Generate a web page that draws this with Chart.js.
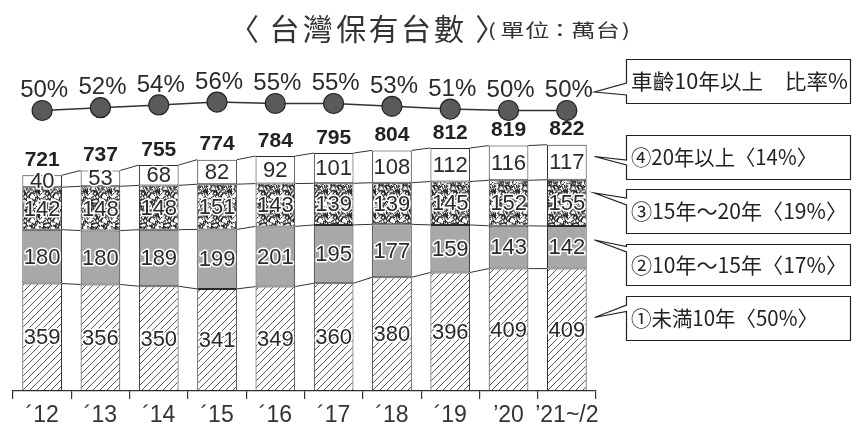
<!DOCTYPE html>
<html lang="zh-Hant">
<head>
<meta charset="utf-8">
<title>台灣保有台數</title>
<script src="https://cdn.jsdelivr.net/npm/chart.js@4.4.1/dist/chart.umd.min.js"></script>
<style>
  html, body { margin: 0; padding: 0; background: #fff; }
  #wrap { width: 852px; height: 423px; }
</style>
</head>
<body>
<div id="wrap"><canvas id="chart" width="852" height="423"></canvas></div>
<script>
/* =============================================
   DATA
   ============================================= */
const years     = ['´12', '´13', '´14', '´15', '´16', '´17', '´18', '´19', '’20', '’21~/2'];
const under10   = [359, 356, 350, 341, 349, 360, 380, 396, 409, 409];   // ① 未満10年
const age10to15 = [180, 180, 189, 199, 201, 195, 177, 159, 143, 142];   // ② 10年～15年
const age15to20 = [142, 148, 148, 151, 143, 139, 139, 145, 152, 155];   // ③ 15年～20年
const over20    = [40, 53, 68, 82, 92, 101, 108, 112, 116, 117];        // ④ 20年以上
const totals    = [721, 737, 755, 774, 784, 795, 804, 812, 819, 822];
const ratio10up = [50, 52, 54, 56, 55, 55, 53, 51, 50, 50];             // 車齡10年以上 比率%

const titleMain = '〈台灣保有台數〉';
const titleUnit = '(單位：萬台)';

// callout labels, top box first
const calloutTexts = [
  '車齡10年以上　比率%',
  '④20年以上〈14%〉',
  '③15年～20年〈19%〉',
  '②10年～15年〈17%〉',
  '①未満10年〈50%〉'
];

const NUM_FONT = '"Liberation Sans", Arial, sans-serif';
const CJK_FONT = '"Noto Sans CJK TC", "Noto Sans CJK JP", sans-serif';
const INK = '#2a2a2a';

/* =============================================
   PATTERNS
   ============================================= */
const canvas = document.getElementById('chart');
const ctx = canvas.getContext('2d');

/** diagonal hatch "/" for the bottom segment */
function hatchPattern() {
  const s = 7;
  const c = document.createElement('canvas');
  c.width = s; c.height = s;
  const g = c.getContext('2d');
  g.fillStyle = '#fff';
  g.fillRect(0, 0, s, s);
  g.strokeStyle = '#3a3a3a';
  g.lineWidth = 0.85;
  g.beginPath();
  g.moveTo(-1, s + 1); g.lineTo(s + 1, -1);
  g.moveTo(-1, 1);     g.lineTo(1, -1);
  g.moveTo(s - 1, s + 1); g.lineTo(s + 1, s - 1);
  g.stroke();
  return ctx.createPattern(c, 'repeat');
}

/** fine speckled texture for the 15-20 segment (fixed seed, texture only) */
function speckPattern() {
  const s = 24;
  const c = document.createElement('canvas');
  c.width = s; c.height = s;
  const g = c.getContext('2d');
  g.fillStyle = '#fff';
  g.fillRect(0, 0, s, s);
  let seed = 4242;
  const rnd = () => { seed = (seed * 16807) % 2147483647; return seed / 2147483647; };
  g.lineCap = 'round';
  g.strokeStyle = '#262626';
  g.lineWidth = 1;
  for (let k = 0; k < 125; k++) {
    const x = rnd() * s, y = rnd() * s;
    const a = rnd() * Math.PI * 2;
    const len = 1.5 + rnd() * 3;
    const bend = (rnd() - 0.5) * 2;
    for (const dx of [-s, 0, s]) {
      for (const dy of [-s, 0, s]) {
        g.beginPath();
        g.moveTo(x + dx, y + dy);
        g.quadraticCurveTo(
          x + dx + Math.cos(a) * len / 2 + bend, y + dy + Math.sin(a) * len / 2 - bend,
          x + dx + Math.cos(a) * len, y + dy + Math.sin(a) * len);
        g.stroke();
      }
    }
  }
  return ctx.createPattern(c, 'repeat');
}

/* =============================================
   PLUGINS
   ============================================= */

/** series lines between bars + value labels */
const barDecor = {
  id: 'barDecor',
  afterDatasetsDraw(chart) {
    const c = chart.ctx;
    const stacks = [0, 1, 2, 3];

    // connecting lines at each segment top
    c.save();
    c.strokeStyle = '#333';
    c.lineWidth = 1;
    stacks.forEach(di => {
      const els = chart.getDatasetMeta(di).data;
      for (let i = 0; i < els.length - 1; i++) {
        const a = els[i], b = els[i + 1];
        c.beginPath();
        c.moveTo(a.x + a.width / 2, a.y);
        c.lineTo(b.x - b.width / 2, b.y);
        c.stroke();
      }
    });
    c.restore();

    // segment values with white halo
    c.save();
    c.font = '22px ' + NUM_FONT;
    c.textAlign = 'center';
    c.textBaseline = 'middle';
    c.lineJoin = 'round';
    stacks.forEach(di => {
      const ds = chart.data.datasets[di];
      chart.getDatasetMeta(di).data.forEach((el, i) => {
        const y = (el.y + el.base) / 2 + 1;
        const txt = String(ds.data[i]);
        c.strokeStyle = '#fff';
        c.lineWidth = 3;
        c.strokeText(txt, el.x, y);
        c.fillStyle = INK;
        c.fillText(txt, el.x, y);
      });
    });

    // totals above each stack
    c.font = 'bold 21px ' + NUM_FONT;
    c.fillStyle = '#222';
    chart.getDatasetMeta(3).data.forEach((el, i) => {
      c.fillText(String(totals[i]), el.x, el.y - 15);
    });

    // ratio labels above the points
    c.font = '24px ' + NUM_FONT;
    c.fillStyle = INK;
    chart.getDatasetMeta(4).data.forEach((pt, i) => {
      c.fillText(ratio10up[i] + '%', pt.x + 2, pt.y - 20);
    });
    c.restore();
  }
};

/** place a character so that its ink is centred on cx */
function drawInkCentered(c, ch, cx, cy) {
  const m = c.measureText(ch);
  const inkMid = (m.actualBoundingBoxRight - m.actualBoundingBoxLeft) / 2;
  c.fillText(ch, cx - inkMid, cy);
}

/** title + callout boxes */
const frameDecor = {
  id: 'frameDecor',
  afterDraw(chart) {
    const c = chart.ctx;
    c.save();
    c.fillStyle = '#333';
    c.textAlign = 'left';
    c.textBaseline = 'middle';

    // main title, letter-spaced
    c.font = '30px ' + CJK_FONT;
    [...titleMain].forEach((ch, i) => drawInkCentered(c, ch, 252 + i * 32.9, 28.5));

    // unit, slightly widened
    c.font = '18px ' + CJK_FONT;
    const unitX = [492.5, 512.5, 537.5, 560, 583.5, 608, 625];
    [...titleUnit].forEach((ch, i) => {
      c.save();
      c.translate(unitX[i], 30.5);
      c.scale(1.35, 1);
      drawInkCentered(c, ch, 0, 0);
      c.restore();
    });

    // callouts: [top, bottom, attachTop, attachBottom, apexY, textRight]
    const L = 626.5, R = 850.5, AX = 594.5, TX = 631;
    const boxes = [
      [59.5, 103.5, 83, 95, 92, 848],
      [135.5, 179.5, 160, 165, 156.5, 817],
      [189.5, 233.5, 198, 205, 193, 847],
      [244.5, 285.5, 246.5, 252, 240, 847],
      [296.5, 340.5, 305, 311.5, 317.5, 818]
    ];
    c.strokeStyle = '#222';
    c.lineWidth = 1.2;
    c.font = '21px ' + CJK_FONT;
    boxes.forEach(([t, b, a1, a2, ay, tr], i) => {
      c.beginPath();
      c.moveTo(L, a1);
      c.lineTo(L, t);
      c.lineTo(R, t);
      c.lineTo(R, b);
      c.lineTo(L, b);
      c.lineTo(L, a2);
      c.lineTo(AX, ay);
      c.closePath();
      c.fillStyle = '#fff';
      c.fill();
      c.stroke();

      const txt = calloutTexts[i];
      const w = c.measureText(txt).width;
      c.save();
      c.translate(TX, (t + b) / 2);
      c.scale((tr - TX) / w, 1);
      c.fillStyle = '#222';
      c.fillText(txt, 0, 0);
      c.restore();
    });
    c.restore();
  }
};

/* =============================================
   CHART
   ============================================= */
const barCommon = {
  stack: 'age',
  borderColor: '#2a2a2a',
  borderWidth: 1,
  borderSkipped: false,
  barPercentage: 0.68,
  categoryPercentage: 1,
  order: 2
};

new Chart(ctx, {
  type: 'bar',
  data: {
    labels: years,
    datasets: [
      { ...barCommon, label: '①未満10年', data: under10, backgroundColor: hatchPattern() },
      { ...barCommon, label: '②10年～15年', data: age10to15, backgroundColor: '#a8a8aa' },
      { ...barCommon, label: '③15年～20年', data: age15to20, backgroundColor: speckPattern() },
      { ...barCommon, label: '④20年以上', data: over20, backgroundColor: '#ffffff' },
      {
        type: 'line',
        label: '車齡10年以上 比率%',
        data: ratio10up,
        yAxisID: 'y2',
        stack: 'ratio',
        borderColor: '#333',
        borderWidth: 1.5,
        pointRadius: 10,
        pointBackgroundColor: '#5a5a5a',
        pointBorderColor: '#222',
        pointBorderWidth: 1.2,
        tension: 0,
        clip: false,
        order: 1
      }
    ]
  },
  options: {
    responsive: false,
    animation: false,
    layout: { padding: { left: 13, right: 256, top: 60, bottom: 0 } },
    plugins: {
      legend: { display: false },
      tooltip: { enabled: false },
      title: { display: false }
    },
    scales: {
      x: {
        stacked: true,
        grid: { display: true, offset: true, drawOnChartArea: false, drawTicks: true, tickLength: 8, color: '#333', lineWidth: 1.2 },
        border: { display: true, color: '#333', width: 1.2 },
        ticks: { color: '#333', font: { family: NUM_FONT, size: 23 }, padding: 3, maxRotation: 0, autoSkip: false },
        afterFit(axis) { axis.height = 32; }
      },
      y:  { stacked: true, display: false, min: 0, max: 1106 },
      y2: { stacked: false, display: false, min: -150, max: 86 }
    }
  },
  plugins: [barDecor, frameDecor]
});
</script>
</body>
</html>
